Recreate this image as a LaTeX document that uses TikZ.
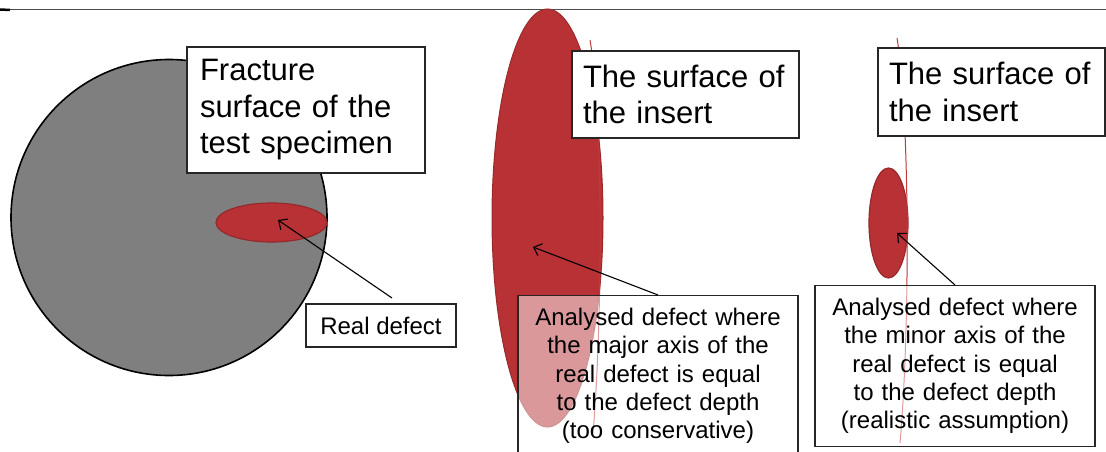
\documentclass[tikz,border=0pt]{standalone}
\usepackage{fontspec}
\setmainfont{Liberation Sans}
\usetikzlibrary{arrows.meta,shapes.geometric}
\definecolor{defred}{HTML}{B83235}
\definecolor{defedge}{HTML}{96292B}
\definecolor{surfline}{HTML}{C0393B}
\definecolor{specgray}{HTML}{7F7F7F}
\definecolor{boxedge}{HTML}{262626}
\tikzset{
  bigbox/.style={draw=boxedge, line width=1.2pt, fill=white, inner sep=0pt, align=left,
     font=\fontsize{31}{36.5}\selectfont},
  labbox/.style={draw=boxedge, line width=1.2pt, fill=white, fill opacity=0.5, text opacity=1,
     inner xsep=6pt, inner ysep=12.5pt, align=center, font=\fontsize{24}{28.3}\selectfont},
  smallbox/.style={draw=boxedge, line width=1.2pt, fill=white, inner sep=0pt,
     font=\fontsize{24}{28}\selectfont},
  defect/.style={fill=defred, draw=defedge, line width=1.2pt},
  surface/.style={draw=surfline, line width=1pt},
  pointer/.style={draw=black, line width=1.1pt, -{Straight Barb[length=7pt,width=13pt]}}
}
\begin{document}
\begin{tikzpicture}[x=1pt,y=-1pt]
\useasboundingbox (0,0) rectangle (1106,452);
% header rule
\coordinate (hl) at (0,9.5);
\coordinate (hr) at (1106,9.5);
\draw[line width=1pt, black!70] (hl) -- (hr);
\coordinate (hs) at (10,10);
\draw[line width=2.5pt, black] (hl) -- (hs);

% left: specimen
\node[circle, fill=specgray, draw=black, line width=1.6pt, minimum size=316pt, inner sep=0pt] (spec) at (169,217.5) {};
\node[ellipse, defect, minimum width=111pt, minimum height=39pt, inner sep=0pt] (realdef) at (271.5,222.5) {};
\node[bigbox, minimum width=238pt, minimum height=126pt, text width=212pt] (fract) at (306,110)
  {Fracture\\surface of the\\test specimen};
\node[smallbox, minimum width=150pt, minimum height=43pt] (rdbox) at (381,325.5) {Real defect};
\coordinate (rdt) at (392,298);
\coordinate (rdh) at (278,220);

% middle: conservative
\node[ellipse, fill=defred, draw=defedge!90!defred, line width=1pt, minimum width=111pt, minimum height=418pt, inner sep=0pt] (bigdef) at (547.5,218) {};
\coordinate (ms) at (590,40);
\coordinate (me) at (593,433);
\draw[surface] (ms) .. controls (604,120) and (602,330) .. (me);
\node[bigbox, minimum width=227pt, minimum height=87pt, text width=205pt, inner xsep=11pt] (ins1) at (685.5,94.5)
  {The surface of\\the insert};
\node[labbox, text width=268pt, anchor=north] (an1) at (658,295)
  {Analysed defect where\\the major axis of the\\real defect is equal\\to the defect depth\\(too conservative)};
\coordinate (mh) at (533,247);

% right: realistic
\node[ellipse, defect, minimum width=39pt, minimum height=110pt, inner sep=0pt] (smalldef) at (888.5,223) {};
\coordinate (rs) at (897,38);
\coordinate (re) at (900,443);
\draw[surface] (rs) .. controls (910,120) and (910,330) .. (re);
\node[bigbox, minimum width=227pt, minimum height=88pt, text width=205pt, inner xsep=11pt] (ins2) at (991.5,92)
  {The surface of\\the insert};
\node[labbox, text width=268pt, minimum height=158pt, anchor=north] (an2) at (955,285)
  {Analysed defect where\\the minor axis of the\\real defect is equal\\to the defect depth\\(realistic assumption)};
\coordinate (rh) at (897,233);

% pointers
\draw[pointer] (rdt) -- (rdh);
\draw[pointer] (an1.north) -- (mh);
\draw[pointer] (an2.north) -- (rh);
\end{tikzpicture}
\end{document}
